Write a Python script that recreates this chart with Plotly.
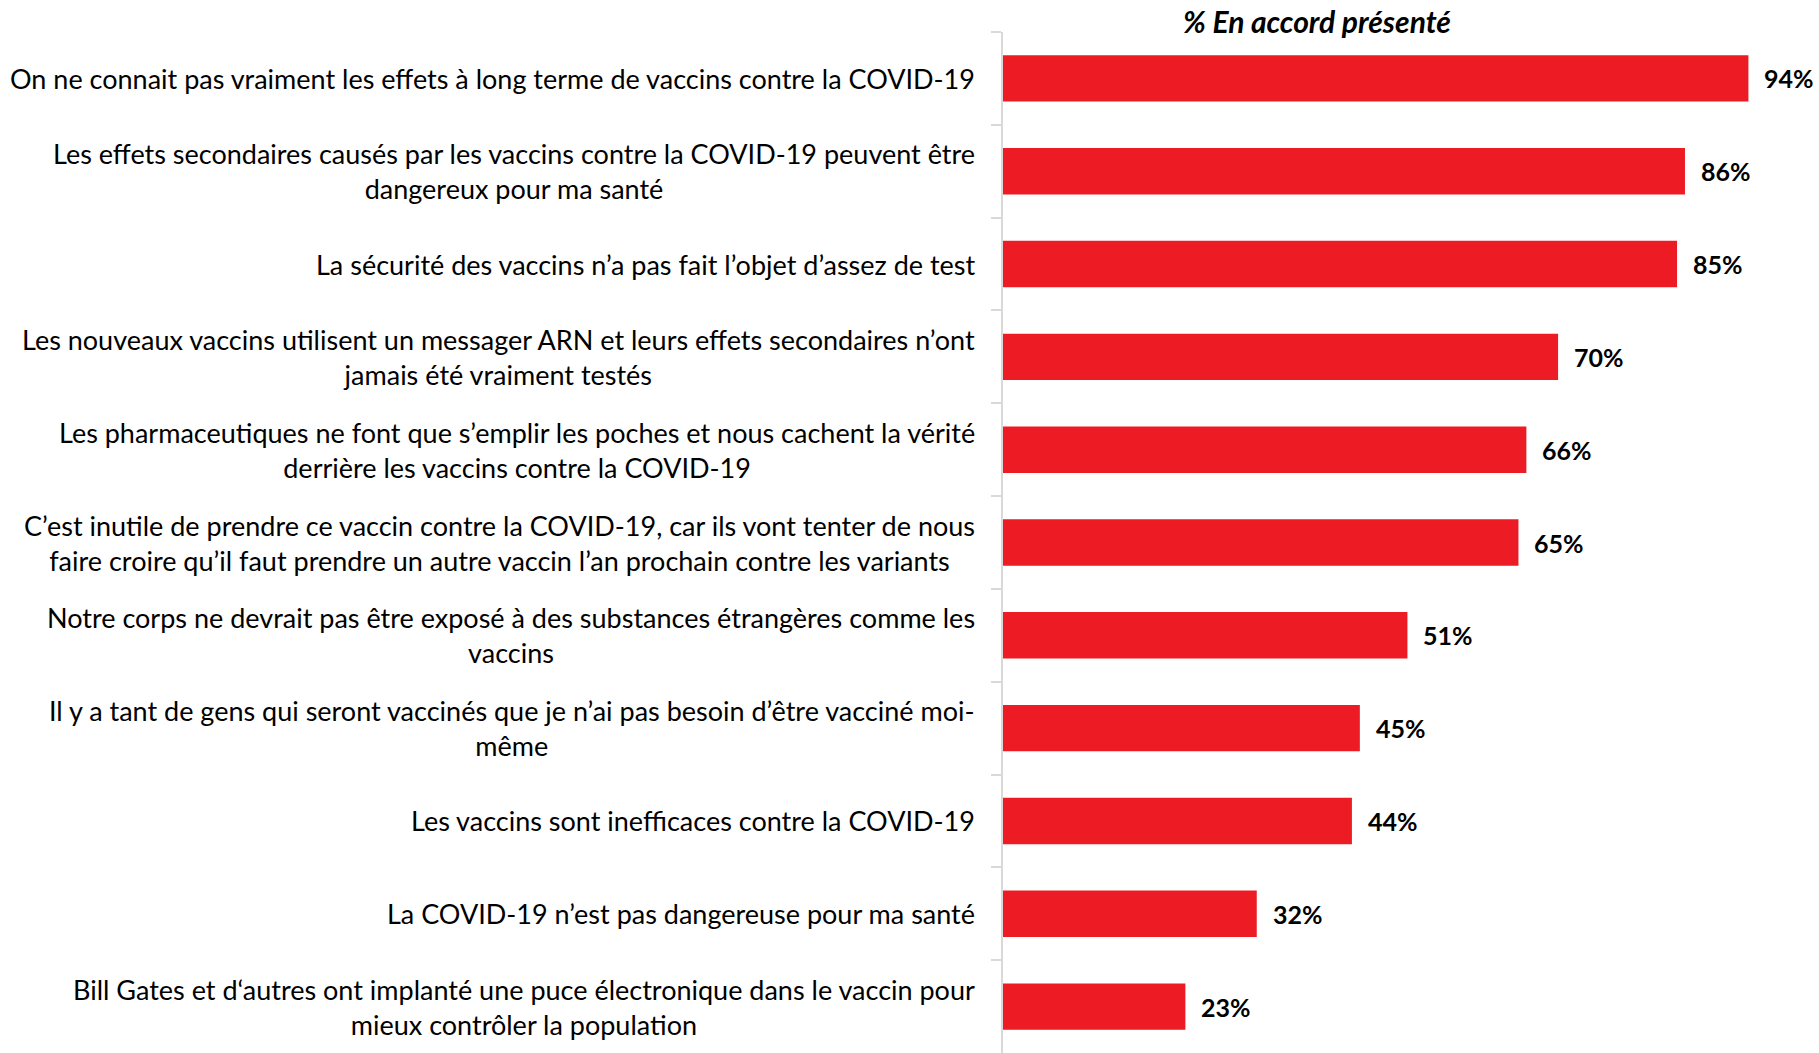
import plotly.graph_objects as go

categories = [
    "On ne connait pas vraiment les effets à long terme de vaccins contre la COVID-19",
    "Les effets secondaires causés par les vaccins contre la COVID-19 peuvent être<br>dangereux pour ma santé",
    "La sécurité des vaccins n’a pas fait l’objet d’assez de test",
    "Les nouveaux vaccins utilisent un messager ARN et leurs effets secondaires n’ont<br>jamais été vraiment testés",
    "Les pharmaceutiques ne font que s’emplir les poches et nous cachent la vérité<br>derrière les vaccins contre la COVID-19",
    "C’est inutile de prendre ce vaccin contre la COVID-19, car ils vont tenter de nous<br>faire croire qu’il faut prendre un autre vaccin l’an prochain contre les variants",
    "Notre corps ne devrait pas être exposé à des substances étrangères comme les<br>vaccins",
    "Il y a tant de gens qui seront vaccinés que je n’ai pas besoin d’être vacciné moi-<br>même",
    "Les vaccins sont inefficaces contre la COVID-19",
    "La COVID-19 n’est pas dangereuse pour ma santé",
    "Bill Gates et d‘autres ont implanté une puce électronique dans le vaccin pour<br>mieux contrôler la population",
]
values = [94, 86, 85, 70, 66, 65, 51, 45, 44, 32, 23]
value_labels = [f"{v}%" for v in values]
title_text = "% En accord présenté"

FONT = "Lato"
RED = "#ED1C24"

fig = go.Figure()
fig.add_trace(go.Bar(
    x=values, y=categories, orientation="h",
    marker=dict(color=RED, line=dict(width=0)),
    width=0.5, hoverinfo="skip",
))

for c, v, lab in zip(categories, values, value_labels):
    fig.add_annotation(x=v, y=c, xref="x", yref="y", text=f"<b>{lab}</b>",
                       showarrow=False, xanchor="left", xshift=14,
                       font=dict(family=FONT, size=25, color="black"))
    fig.add_annotation(x=0, y=c, xref="x", yref="y", text=c,
                       showarrow=False, xanchor="right", align="center", xshift=-26,
                       font=dict(family=FONT, size=27, color="black"))

fig.add_annotation(x=0.396, y=1, xref="paper", yref="paper", yanchor="middle", yshift=11,
                   text=f"<b><i>{title_text}</i></b>", showarrow=False,
                   font=dict(family=FONT, size=30, color="black"))

fig.update_layout(
    width=1819, height=1053,
    margin=dict(l=1003, r=23, t=32, b=0),
    plot_bgcolor="white", paper_bgcolor="white",
    showlegend=False,
    xaxis=dict(range=[0, 100], visible=False, fixedrange=True),
    yaxis=dict(autorange=False, range=[10.5, -0.5], type="category",
               showticklabels=False, showline=True, linecolor="#D9D9D9", linewidth=2,
               ticks="outside", ticklen=10, tickcolor="#D9D9D9", tickwidth=2,
               tickson="boundaries", showgrid=False, zeroline=False, fixedrange=True),
)

fig.write_html("out.html", config={"displayModeBar": False},
               post_script="document.body.style.margin='0';")
